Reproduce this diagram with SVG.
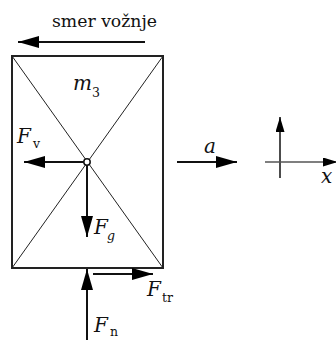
<svg xmlns="http://www.w3.org/2000/svg" width="336" height="340" viewBox="0 0 336 340">
<style>
text{font-family:'DejaVu Serif',serif;fill:#111}
.m{font-style:italic;font-size:20px}
.s{font-size:12.5px}
.a{stroke:#111;stroke-width:2;fill:none}
</style>
<defs>
<marker id="h" markerUnits="userSpaceOnUse" markerWidth="21" markerHeight="12" refX="21" refY="6" orient="auto">
<path d="M0,0 L21,6 L0,12 z" fill="#000"/>
</marker>
<marker id="hs" markerUnits="userSpaceOnUse" markerWidth="15" markerHeight="9" refX="15" refY="4.5" orient="auto">
<path d="M0,0 L15,4.5 L0,9 z" fill="#000"/>
</marker>
</defs>
<rect width="336" height="340" fill="#fff"/>
<g id="direction">
<text x="52" y="27" font-size="17.3" textLength="105">smer vožnje</text>
</g>
<g id="body">
<rect x="12" y="56" width="151" height="212" fill="none" stroke="#222" stroke-width="2"/>
<line x1="12" y1="56" x2="163" y2="268" stroke="#222" stroke-width="1"/>
<line x1="163" y1="56" x2="12" y2="268" stroke="#222" stroke-width="1"/>
<text class="m" x="73" y="90">m</text>
<text class="s" x="92" y="97">3</text>
</g>
<g id="connectors">
<line class="a" x1="145" y1="42" x2="18" y2="42" marker-end="url(#h)"/>
<line class="a" x1="84" y1="162" x2="24" y2="162" marker-end="url(#h)"/>
<line class="a" x1="87" y1="165" x2="87" y2="237" marker-end="url(#h)"/>
<line class="a" x1="93" y1="274" x2="153" y2="274" marker-end="url(#h)"/>
<line class="a" x1="87" y1="340" x2="87" y2="269" marker-end="url(#h)"/>
<line class="a" x1="177" y1="162" x2="237" y2="162" marker-end="url(#h)"/>
<line x1="280" y1="178" x2="280" y2="117" stroke="#111" stroke-width="1.5" marker-end="url(#hs)"/>
<line x1="265" y1="162" x2="338" y2="162" stroke="#555" stroke-width="1.5" marker-end="url(#hs)"/>
</g>
<g id="center">
<circle cx="87" cy="162" r="3.2" fill="#fff" stroke="#111" stroke-width="1.5"/>
</g>
<g id="labels">
<text class="m" x="17" y="143">F</text><text class="s" x="33" y="148">v</text>
<text class="m" x="94" y="234">F</text><text class="s" x="107" y="240" font-style="italic">g</text>
<text class="m" x="147" y="296">F</text><text class="s" x="162" y="302">tr</text>
<text class="m" x="94" y="332">F</text><text class="s" x="110" y="336">n</text>
<text class="m" x="204" y="153">a</text>
<text class="m" x="321" y="183">x</text>
</g>
</svg>
